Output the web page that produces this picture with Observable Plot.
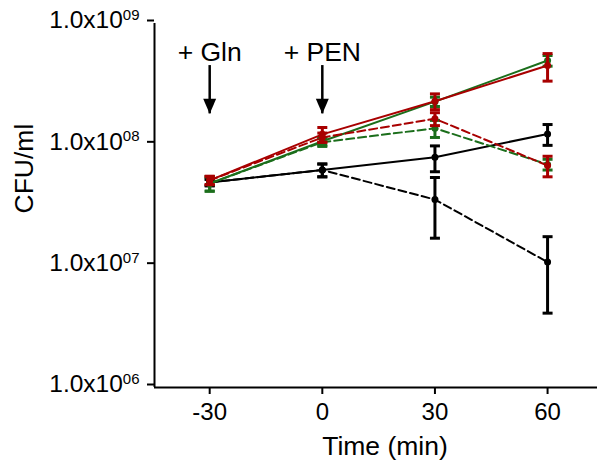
<!DOCTYPE html>
<html><head><meta charset="utf-8">
<script src="https://cdn.jsdelivr.net/npm/d3@7"></script>
<script src="https://cdn.jsdelivr.net/npm/@observablehq/plot@0.6"></script>
<style>body{margin:0;background:#fff;} #chart svg{display:block;overflow:visible;}</style>
</head><body><div id="chart"></div>
<script>
// Time points (min)
const times = [-30, 0, 30, 60];
// Y tick values and exponent labels
const yTicks = [1e6, 1e7, 1e8, 1e9];
const yTickExp = ["06", "07", "08", "09"];

// Series means and SDs (CFU/ml)
const blackSolidMean  = [4.9e7, 6.2e7, 7.9e7, 1.23e8];
const blackSolidSD    = [0.3e7, 0.75e7, 1.9e7, 2.4e7];
const blackDashedMean = [4.9e7, 6.2e7, 3.54e7, 1.08e7];
const blackDashedSD   = [0.3e7, 0.75e7, 1.84e7, 0.67e7];
const greenSolidMean  = [4.8e7, 1.07e8, 2.27e8, 4.95e8];
const greenSolidSD    = [0.65e7, 0.8e7, 2.0e7, 0.5e8];
const greenDashedMean = [4.8e7, 1.05e8, 1.37e8, 6.9e7];
const greenDashedSD   = [0.65e7, 0.8e7, 2.2e7, 0.7e7];
const redSolidMean    = [5.1e7, 1.22e8, 2.29e8, 4.5e8];
const redSolidSD      = [0.4e7, 1.7e7, 3.4e7, 1.15e8];
const redDashedMean   = [5.1e7, 1.15e8, 1.64e8, 6.75e7];
const redDashedSD     = [0.4e7, 1.0e7, 2.0e7, 1.3e7];

// Annotations
const annotX = [-30, 0];
const annotText = ["+ Gln", "+ PEN"];
const annotY = 5.8e8;
const arrowTop = 4.5e8;
const arrowTip = 1.8e8;

const BLACK = "#000000", GREEN = "#1b6e1b", RED = "#a80000";
const series = [
  {mean: blackSolidMean, sd: blackSolidSD, color: BLACK, dash: null},
  {mean: blackDashedMean, sd: blackDashedSD, color: BLACK, dash: "8,4"},
  {mean: greenSolidMean, sd: greenSolidSD, color: GREEN, dash: null},
  {mean: greenDashedMean, sd: greenDashedSD, color: GREEN, dash: "8,4"},
  {mean: redSolidMean, sd: redSolidSD, color: RED, dash: null},
  {mean: redDashedMean, sd: redDashedSD, color: RED, dash: "8,4"}
];

const xDomain = [-44.7, 73.3];
const yDomain = [1e6, 1e9];

const capSymbol = {draw(ctx) { ctx.moveTo(-5, 0); ctx.lineTo(5, 0); }};
const headSymbol = {draw(ctx) { ctx.moveTo(-6.5, -15); ctx.lineTo(6.5, -15); ctx.lineTo(0, 0); ctx.closePath(); }};

const marks = [];
for (const s of series) {
  const rows = times.map((t, i) => ({t, mean: s.mean[i], sd: s.sd[i]}));
  marks.push(Plot.line(rows, {x: "t", y: "mean", stroke: s.color, strokeWidth: 2, strokeDasharray: s.dash || undefined}));
  marks.push(Plot.ruleX(rows, {x: "t", y1: d => d.mean - d.sd, y2: d => d.mean + d.sd, stroke: s.color, strokeWidth: 3}));
  marks.push(Plot.dot(rows, {x: "t", y: d => d.mean + d.sd, symbol: capSymbol, stroke: s.color, fill: "none", strokeWidth: 3}));
  marks.push(Plot.dot(rows, {x: "t", y: d => d.mean - d.sd, symbol: capSymbol, stroke: s.color, fill: "none", strokeWidth: 3}));
  marks.push(Plot.dot(rows, {x: "t", y: "mean", r: 3.5, fill: s.color, stroke: "none"}));
}

const plot = Plot.plot({
  width: 599, height: 466,
  marginLeft: 154, marginRight: 2, marginTop: 23, marginBottom: 79,
  style: {fontFamily: "'Liberation Sans', Arial, sans-serif", background: "#fff", color: "#000"},
  x: {domain: xDomain},
  y: {type: "log", domain: yDomain},
  marks: [
    Plot.ruleY([yDomain[0]], {strokeWidth: 2}),
    Plot.ruleX([xDomain[0]], {strokeWidth: 2}),
    Plot.axisX({ticks: times, tickSize: 7, tickPadding: 8, fontSize: 24, label: null, strokeWidth: 2,
      tickFormat: d => String(d)}),
    Plot.axisY({ticks: yTicks, tickSize: 7, tickPadding: 8, fontSize: 24.5, label: null, strokeWidth: 2, dy: -3,
      tickFormat: d => "1.0x10|" + yTickExp[yTicks.indexOf(d)]}),
    Plot.text(["CFU/ml"], {frameAnchor: "left", dx: -130, dy: 8, rotate: -90, fontSize: 26.5}),
    Plot.text(["Time (min)"], {frameAnchor: "bottom", dx: 9, dy: 67, fontSize: 26.5}),
    Plot.text(annotX, {x: d => d, y: annotY, text: (d, i) => annotText[i], fontSize: 26.5}),
    Plot.ruleX(annotX, {x: d => d, y1: arrowTop, y2: arrowTip, strokeWidth: 2.5}),
    Plot.dot(annotX, {x: d => d, y: arrowTip, symbol: headSymbol, fill: "#000", stroke: "none"}),
    ...marks
  ]
});

d3.select(plot).selectAll('g[aria-label="y-axis tick label"] text').each(function() {
  const parts = this.textContent.split("|");
  if (parts.length === 2) {
    this.textContent = parts[0];
    d3.select(this).append("tspan").attr("font-size", 15).attr("dy", "-0.55em").text(parts[1]);
  }
});

document.getElementById("chart").appendChild(plot);
</script>
</body></html>
